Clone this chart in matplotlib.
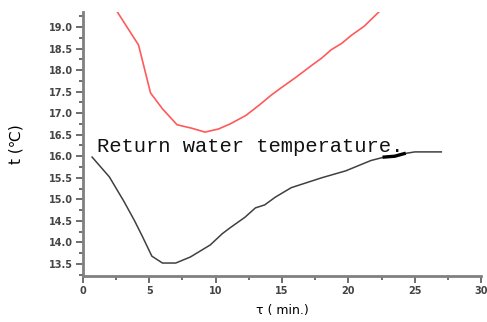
import matplotlib.pyplot as plt
from matplotlib.ticker import MultipleLocator

# supply water (red) and return water (black) temperature vs time
supply_t = [2.6, 4.2, 5.1, 6.0, 7.1, 8.2, 9.2, 10.2, 11.1, 12.3, 13.3, 14.2, 14.9, 16.0, 17.2, 18.0,
            18.7, 19.5, 20.2, 21.2, 22.3]
supply_temp = [19.35, 18.58, 17.47, 17.10, 16.73, 16.65, 16.56, 16.63, 16.75, 16.95, 17.19, 17.42,
               17.58, 17.82, 18.10, 18.28, 18.47, 18.62, 18.80, 19.02, 19.35]

return_t = [0.7, 2.0, 3.1, 3.9, 4.5, 5.2, 6.0, 7.0, 8.1, 9.6, 10.5, 11.1, 12.2, 13.0, 13.7, 14.5, 15.7,
            17.0, 18.0, 19.8, 21.7, 22.7, 23.5, 24.2, 25.0, 27.0]
return_temp = [15.98, 15.52, 14.95, 14.50, 14.13, 13.68, 13.52, 13.52, 13.66, 13.94, 14.20, 14.34,
               14.58, 14.80, 14.87, 15.05, 15.27, 15.40, 15.50, 15.66, 15.90, 15.98, 16.00, 16.06,
               16.10, 16.10]

fig = plt.figure(figsize=(4.87, 3.22), dpi=100)
ax = fig.add_axes([0.170, 0.143, 0.818, 0.82])

ax.plot(supply_t, supply_temp, color='#ff5a5a', lw=1.2)
ax.plot(return_t, return_temp, color='#404040', lw=1.1)
ax.plot(return_t[21:24], return_temp[21:24], color='black', lw=2.4)

ax.text(1.05, 16.10, 'Return water temperature.', family='Liberation Mono', fontsize=14.8,
        color='#111111')

ax.set_xlim(0, 30)
ax.set_ylim(13.22, 19.35)
ax.xaxis.set_major_locator(MultipleLocator(5))
ax.xaxis.set_minor_locator(MultipleLocator(2.5))
ax.yaxis.set_major_locator(MultipleLocator(0.5))
ax.yaxis.set_minor_locator(MultipleLocator(0.25))
ax.yaxis.set_major_formatter(lambda v, p: '%.1f' % v)

for s in ['top', 'right']:
    ax.spines[s].set_visible(False)
for s in ['left', 'bottom']:
    ax.spines[s].set_color('#808080')
    ax.spines[s].set_linewidth(2)
ax.tick_params(which='both', color='#555555', width=1.2, labelsize=7, pad=2)
ax.tick_params(which='major', length=5)
ax.tick_params(which='minor', length=3)
for lbl in ax.get_xticklabels() + ax.get_yticklabels():
    lbl.set_fontweight('bold')
    lbl.set_color('#444444')

ax.set_ylabel('t (\u2103)', fontsize=11, labelpad=18)
ax.set_xlabel('\u03c4 ( min.)', fontsize=9, labelpad=6)

plt.savefig('out.png')
